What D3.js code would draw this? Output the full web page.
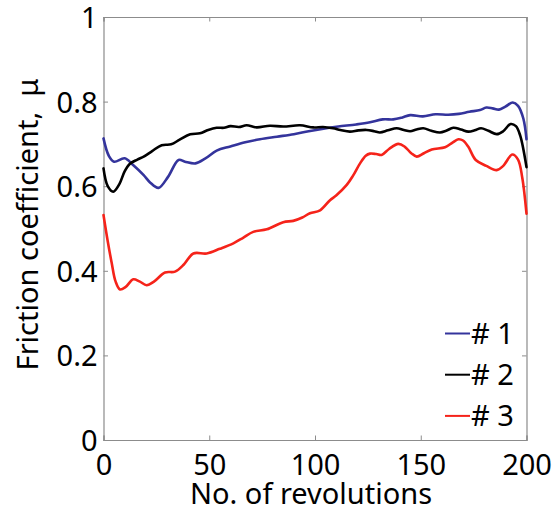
<!DOCTYPE html>
<html>
<head>
<meta charset="utf-8">
<script src="https://cdn.jsdelivr.net/npm/d3@7"></script>
<style>
  html, body { margin: 0; padding: 0; background: #fff; }
  svg text { font-family: "Noto Sans", "Open Sans", sans-serif; fill: #000; }
</style>
</head>
<body>
<svg id="chart" width="553" height="511"></svg>
<script>
// Friction coefficient vs. number of revolutions for three specimens

const seriesNames = ["# 1", "# 2", "# 3"];
const seriesColors = ["#34349c", "#000000", "#f5231a"];

// Specimen #1
const revs1 = [0, 2.5, 5, 10, 14, 19, 22, 26, 30.5, 35.5, 38.5, 43.5, 48, 53.5, 60, 67, 74, 82, 90, 97, 104, 111, 119.5, 126, 132, 137, 141, 145, 151, 157, 163, 168, 173, 178, 181, 184, 187, 190, 193.5, 196, 198.5, 200];
const mu1   = [0.713, 0.672, 0.658, 0.666, 0.650, 0.626, 0.609, 0.596, 0.622, 0.662, 0.658, 0.654, 0.665, 0.684, 0.694, 0.704, 0.711, 0.717, 0.723, 0.730, 0.736, 0.741, 0.746, 0.751, 0.758, 0.758, 0.762, 0.768, 0.765, 0.770, 0.769, 0.771, 0.776, 0.780, 0.786, 0.784, 0.781, 0.788, 0.798, 0.790, 0.760, 0.711];

// Specimen #2
const revs2 = [0, 2, 4.6, 7.5, 10, 12.5, 16, 19, 23, 27.5, 32, 36, 41, 45.6, 49.5, 53.5, 57, 60, 64, 67.7, 72.4, 78.7, 85, 92.9, 99.2, 103.8, 108.5, 112, 116.5, 120.5, 124.4, 128, 130.7, 134.5, 138.6, 142, 145, 148, 151.2, 155, 159.1, 162, 165.4, 169, 172.5, 175.5, 178.5, 182, 185.9, 189, 192.5, 195, 197, 200];
const mu2   = [0.642, 0.600, 0.587, 0.605, 0.635, 0.653, 0.663, 0.670, 0.683, 0.697, 0.699, 0.710, 0.723, 0.725, 0.733, 0.738, 0.738, 0.742, 0.740, 0.744, 0.739, 0.743, 0.741, 0.744, 0.739, 0.740, 0.737, 0.733, 0.729, 0.732, 0.733, 0.730, 0.727, 0.732, 0.737, 0.733, 0.730, 0.734, 0.737, 0.731, 0.727, 0.731, 0.738, 0.734, 0.729, 0.732, 0.737, 0.731, 0.723, 0.730, 0.747, 0.742, 0.720, 0.645];

// Specimen #3
const revs3 = [0, 2, 3.9, 5.7, 7.8, 10.5, 14.1, 17, 20.4, 24, 29.1, 33.8, 38, 42.5, 48.8, 55, 61.4, 66, 70.8, 77.2, 85, 89.7, 94, 97.6, 102.4, 107.1, 110, 115, 118, 121.3, 124, 126, 129, 131.5, 135, 139.4, 142.5, 145.5, 148.1, 151.5, 155.2, 161.5, 165, 167.8, 170, 172.5, 176, 181, 185.9, 189, 193.3, 196, 198, 200];
const mu3   = [0.532, 0.470, 0.418, 0.375, 0.356, 0.362, 0.380, 0.375, 0.366, 0.375, 0.396, 0.398, 0.415, 0.441, 0.441, 0.452, 0.465, 0.478, 0.492, 0.498, 0.515, 0.518, 0.526, 0.536, 0.543, 0.567, 0.578, 0.603, 0.625, 0.654, 0.672, 0.677, 0.676, 0.674, 0.688, 0.700, 0.693, 0.678, 0.670, 0.678, 0.687, 0.692, 0.703, 0.711, 0.708, 0.693, 0.662, 0.648, 0.638, 0.648, 0.675, 0.663, 0.620, 0.535];

const xTicks = [0, 50, 100, 150, 200];
const yTicks = [0, 0.2, 0.4, 0.6, 0.8, 1];
const xTitle = "No. of revolutions";
const yTitle = "Friction coefficient,  μ";

const series = [
  { name: seriesNames[0], color: seriesColors[0], pts: revs1.map((r, i) => [r, mu1[i]]) },
  { name: seriesNames[1], color: seriesColors[1], pts: revs2.map((r, i) => [r, mu2[i]]) },
  { name: seriesNames[2], color: seriesColors[2], pts: revs3.map((r, i) => [r, mu3[i]]) }
];

const svg = d3.select("#chart");
const plot = { left: 103.5, right: 526.5, top: 17, bottom: 440 };
const axisColor = "#8c8c8c";
const fontSize = 29;

const x = d3.scaleLinear().domain([0, 200]).range([plot.left, plot.right]);
const y = d3.scaleLinear().domain([0, 1]).range([plot.bottom, plot.top]);

const tickLen = 4.5;

// Box-style axes: ticks point inward on all four sides
const bottomAxis = svg.append("g")
  .attr("transform", `translate(0,${plot.bottom})`)
  .call(d3.axisBottom(x).tickValues(xTicks).tickSize(-tickLen).tickPadding(14).tickFormat(d3.format("d")));
const topAxis = svg.append("g")
  .attr("transform", `translate(0,${plot.top})`)
  .call(d3.axisTop(x).tickValues(xTicks).tickSize(-tickLen).tickFormat(""));
const leftAxis = svg.append("g")
  .attr("transform", `translate(${plot.left},0)`)
  .call(d3.axisLeft(y).tickValues(yTicks).tickSize(-tickLen).tickPadding(6).tickFormat(d => d === 0 || d === 1 ? d3.format("d")(d) : d3.format(".1f")(d)));
const rightAxis = svg.append("g")
  .attr("transform", `translate(${plot.right},0)`)
  .call(d3.axisRight(y).tickValues(yTicks).tickSize(-tickLen).tickFormat(""));

[bottomAxis, topAxis, leftAxis, rightAxis].forEach(g => {
  g.select(".domain").attr("stroke", axisColor).attr("stroke-width", 1.2);
  g.selectAll(".tick line").attr("stroke", axisColor).attr("stroke-width", 1);
  g.selectAll(".tick text").attr("font-size", fontSize).attr("font-family", null).attr("fill", "#000");
});
bottomAxis.selectAll(".tick text").attr("dy", "0.72em");
leftAxis.selectAll(".tick text").attr("dy", "0.36em");

// Series lines
const line = d3.line()
  .x(d => x(d[0]))
  .y(d => y(d[1]))
  .curve(d3.curveCatmullRom.alpha(0.5));

svg.append("g").selectAll("path")
  .data(series)
  .join("path")
  .attr("d", d => line(d.pts))
  .attr("fill", "none")
  .attr("stroke", d => d.color)
  .attr("stroke-width", 2.6)
  .attr("stroke-linejoin", "round")
  .attr("stroke-linecap", "round");

// Legend (no frame)
const legend = svg.append("g");
const legendRows = legend.selectAll("g")
  .data(series)
  .join("g")
  .attr("transform", (d, i) => `translate(445,${333.5 + i * 41.2})`);
legendRows.append("line")
  .attr("x1", 0).attr("x2", 25)
  .attr("stroke", d => d.color)
  .attr("stroke-width", 2);
legendRows.append("text")
  .attr("x", 26)
  .attr("dy", "0.36em")
  .attr("font-size", fontSize)
  .text(d => d.name);

// Axis titles
svg.append("text")
  .attr("x", 311)
  .attr("y", 504)
  .attr("text-anchor", "middle")
  .attr("font-size", fontSize)
  .text(xTitle);

svg.append("text")
  .attr("transform", `translate(38,${(plot.top + plot.bottom) / 2 - 4}) rotate(-90)`)
  .attr("text-anchor", "middle")
  .attr("font-size", fontSize)
  .style("white-space", "pre")
  .text(yTitle);
</script>
</body>
</html>
